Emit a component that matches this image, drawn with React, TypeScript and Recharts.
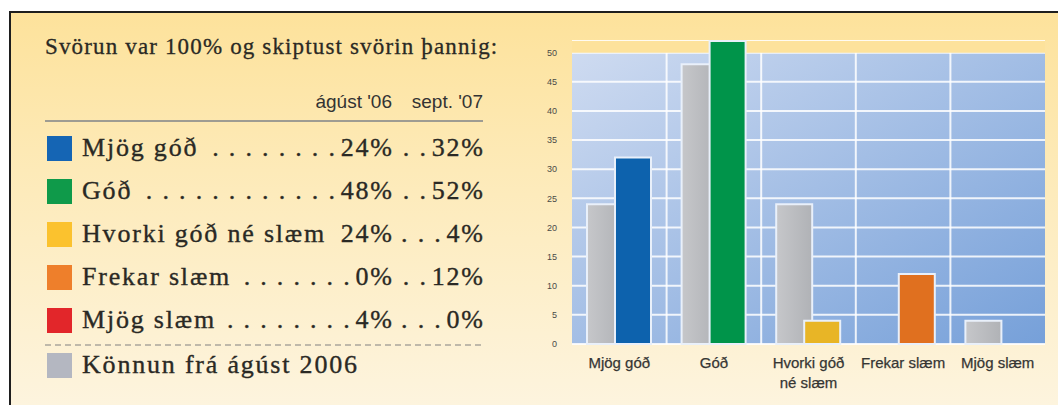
import React from 'react';
import { BarChart, Bar, XAxis, YAxis, CartesianGrid, Cell, ReferenceArea } from 'recharts';

const categories = ['Mjög góð', 'Góð', 'Hvorki góð né slæm', 'Frekar slæm', 'Mjög slæm'];
const axisLabels = [['Mjög góð'], ['Góð'], ['Hvorki góð', 'né slæm'], ['Frekar slæm'], ['Mjög slæm']];
const aug06 = [24, 48, 24, 0, 4];
const sep07 = [32, 52, 4, 12, 0];
const legendColors = ['#1565b4', '#0f9a4a', '#fbc22e', '#ee7f2b', '#e2262a'];
const barColors = ['#0d62ad', '#00944a', '#e8b526', '#e0701f', '#d92a26'];
const baselineColor = '#b4b7c1';
const yTicks = [0, 5, 10, 15, 20, 25, 30, 35, 40, 45, 50];
const title = 'Svörun var 100% og skiptust svörin þannig:';
const columnHeads = ["ágúst '06", "sept. '07"];
const baselineLabel = 'Könnun frá ágúst 2006';

const data = categories.map((name, i) => ({ name, aug06: aug06[i], sep07: sep07[i] }));

const SERIF = "'Liberation Serif', 'Times New Roman', serif";
const SANS = "'Liberation Sans', Arial, sans-serif";
const TEXT = '#2a2924';
const ROW_SIZE = 26;
const ROW_LS = 1.8;

let measureCtx: CanvasRenderingContext2D | null = null;
const textWidth = (s: string) => {
  if (!measureCtx) {
    measureCtx = document.createElement('canvas').getContext('2d');
  }
  if (!measureCtx) return s.length * ROW_SIZE * 0.5;
  measureCtx.font = `${ROW_SIZE}px 'Liberation Serif'`;
  return measureCtx.measureText(s).width + ROW_LS * s.length;
};

const dotsBetween = (from: number, to: number) => {
  const pitch = textWidth('. ');
  const space = textWidth(' ');
  const n = Math.max(0, Math.floor((to - from + space) / pitch));
  return Array(n).fill('.').join(' ');
};

const XTick = (props: any) => {
  const { x, y, index } = props;
  const lines = axisLabels[index] || [String(props.payload?.value)];
  return (
    <text x={x} y={y} textAnchor="middle" fontFamily={SANS} fontSize={15} fill="#363634" stroke="#363634" strokeWidth={0.25}>
      {lines.map((l: string, i: number) => (
        <tspan key={i} x={x} dy={i === 0 ? '0.71em' : '1.35em'}>{l}</tspan>
      ))}
    </text>
  );
};

const rowText: React.CSSProperties = {
  position: 'absolute',
  top: 0,
  height: 32,
  lineHeight: '32px',
  whiteSpace: 'nowrap',
  fontFamily: SERIF,
  fontSize: ROW_SIZE,
  letterSpacing: ROW_LS,
  color: TEXT,
  WebkitTextStroke: `0.35px ${TEXT}`,
};

const NAME_X = 82;
const COL1_R = 392;
const COL2_R = 483;

const Row = ({ color, name, v1, v2, center }: any) => {
  const nameEnd = NAME_X + textWidth(name);
  const v1Start = COL1_R - textWidth(v1) + ROW_LS;
  const v2Start = COL2_R - textWidth(v2) + ROW_LS;
  const d1From = nameEnd + 10;
  const d1To = v1Start - 4;
  const d2From = COL1_R + 8;
  const d2To = v2Start - 4;
  return (
    <div style={{ position: 'absolute', left: 0, top: center - 16, width: 500, height: 32 }}>
      <div style={{ position: 'absolute', left: 47, top: 3.5, width: 25, height: 25, background: color }} />
      <span style={{ ...rowText, left: NAME_X }}>{name}</span>
      <span style={{ ...rowText, left: d1From, width: Math.max(0, d1To - d1From), textAlign: 'right' }}>{dotsBetween(d1From, d1To)}</span>
      <span style={{ ...rowText, left: COL1_R - 100, width: 100 + ROW_LS, textAlign: 'right' }}>{v1}</span>
      <span style={{ ...rowText, left: d2From, width: Math.max(0, d2To - d2From), textAlign: 'right' }}>{dotsBetween(d2From, d2To)}</span>
      <span style={{ ...rowText, left: COL2_R - 100, width: 100 + ROW_LS, textAlign: 'right' }}>{v2}</span>
    </div>
  );
};

const rowCenters = [148, 191, 234, 277, 320];

export default function App() {
  return (
    <div style={{ position: 'absolute', left: 0, top: 0, width: 1058, height: 405, background: '#fff', overflow: 'hidden' }}>
      <svg width={0} height={0} style={{ position: 'absolute' }}>
        <defs>
          <linearGradient id="plotBg" x1="0" y1="0" x2="1" y2="1">
            <stop offset="0" stopColor="#d0dcf1" />
            <stop offset="0.5" stopColor="#a3bee5" />
            <stop offset="1" stopColor="#76a0d9" />
          </linearGradient>
          <linearGradient id="grayBar" x1="0" y1="0" x2="1" y2="0">
            <stop offset="0" stopColor="#c6c7ca" />
            <stop offset="1" stopColor="#b0b2b6" />
          </linearGradient>
        </defs>
      </svg>
      <div
        style={{
          position: 'absolute', left: 9, top: 11, width: 1049, height: 394,
          borderTop: '2px solid #1e1e1e', borderLeft: '2px solid #1e1e1e', boxSizing: 'border-box',
          background: 'linear-gradient(to bottom, #fde29b 0%, #fdeab8 40%, #fdf4de 100%)',
        }}
      />
      <div
        style={{
          position: 'absolute', left: 45, top: 32, height: 30, lineHeight: '30px',
          fontFamily: SERIF, fontSize: 23, letterSpacing: 1.15, color: TEXT, whiteSpace: 'nowrap',
          WebkitTextStroke: `0.3px ${TEXT}`,
        }}
      >
        {title}
      </div>
      <div style={{ position: 'absolute', left: 250, top: 90, width: 142, height: 24, lineHeight: '24px', textAlign: 'right', fontFamily: SANS, fontSize: 19, color: '#333' }}>
        {columnHeads[0]}
      </div>
      <div style={{ position: 'absolute', left: 392, top: 90, width: 91, height: 24, lineHeight: '24px', textAlign: 'right', fontFamily: SANS, fontSize: 19, color: '#333' }}>
        {columnHeads[1]}
      </div>
      <svg width={1058} height={405} style={{ position: 'absolute', left: 0, top: 0 }}>
        <line x1={45} x2={483} y1={121} y2={121} stroke="#9e9c92" strokeWidth={2} />
        <line x1={45} x2={483} y1={345} y2={345} stroke="#aaa79c" strokeWidth={1.5} strokeDasharray="6 4" />
      </svg>
      {categories.map((c, i) => (
        <Row key={c} color={legendColors[i]} name={c} v1={`${aug06[i]}%`} v2={`${sep07[i]}%`} center={rowCenters[i]} />
      ))}
      <div style={{ position: 'absolute', left: 0, top: 365 - 16, width: 500, height: 32 }}>
        <div style={{ position: 'absolute', left: 47, top: 3.5, width: 25, height: 25, background: baselineColor }} />
        <span style={{ ...rowText, left: NAME_X }}>{baselineLabel}</span>
      </div>
      <div style={{ position: 'absolute', left: 530, top: 0 }}>
        <BarChart
          width={528}
          height={405}
          data={data}
          margin={{ top: 41, right: 13, bottom: 0, left: 12 }}
          barSize={36}
          barGap={-8}
        >
          <CartesianGrid
            fill="url(#plotBg)"
            fillOpacity={1}
            stroke="#ffffff"
            strokeOpacity={0.85}
            strokeWidth={2}
            verticalCoordinatesGenerator={({ offset }: any) =>
              Array.from({ length: categories.length - 1 }, (_, i) => offset.left + ((i + 1) * offset.width) / categories.length)
            }
          />
          <ReferenceArea y1={50} y2={52} fill="#fde29b" fillOpacity={1} stroke="none" ifOverflow="visible" />
          <XAxis dataKey="name" axisLine={false} tickLine={false} tickSize={0} tickMargin={13} height={61} interval={0} tick={<XTick />} />
          <YAxis
            domain={[0, 52]}
            ticks={yTicks}
            interval={0}
            axisLine={false}
            tickLine={false}
            tickSize={0}
            tickMargin={15}
            width={30}
            tick={{ fontSize: 9, fill: '#4a4a48', fontFamily: SANS }}
          />
          <Bar dataKey="aug06" fill="url(#grayBar)" stroke="#e9f0fa" strokeWidth={2} isAnimationActive={false} />
          <Bar dataKey="sep07" stroke="#e9f0fa" strokeWidth={2} isAnimationActive={false}>
            {data.map((d, i) => (
              <Cell key={d.name} fill={barColors[i]} />
            ))}
          </Bar>
        </BarChart>
      </div>
    </div>
  );
}
